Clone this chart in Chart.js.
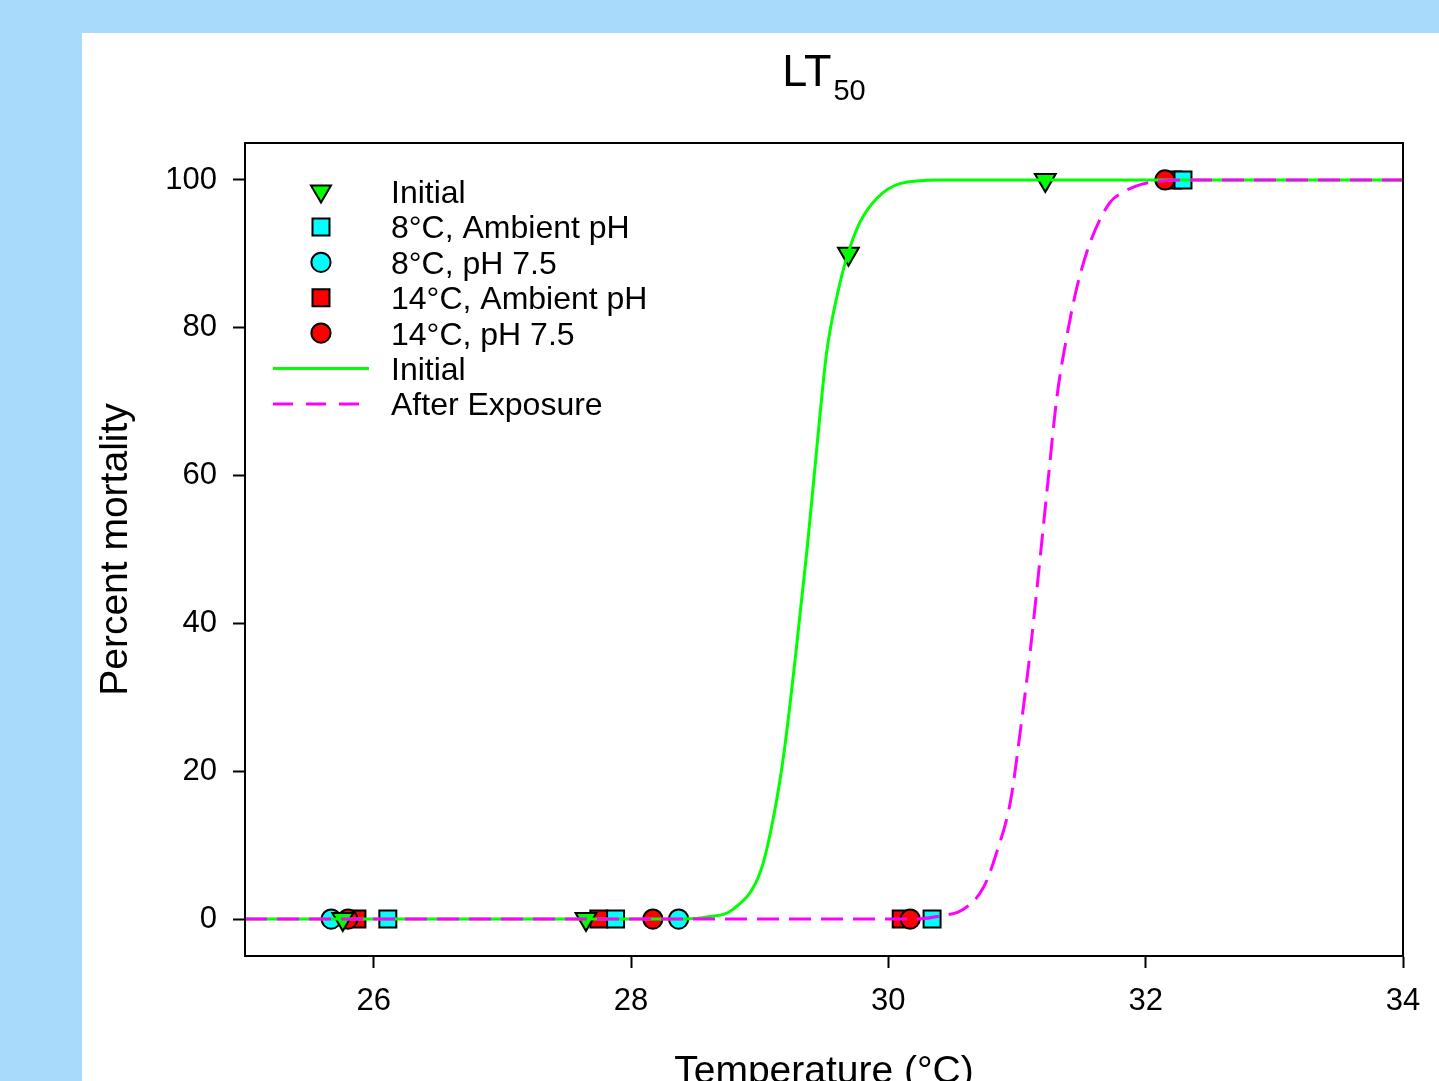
<!DOCTYPE html>
<html>
<head>
<meta charset="utf-8">
<title>LT50</title>
<script src="https://cdn.jsdelivr.net/npm/chart.js@4/dist/chart.umd.min.js"></script>
<style>
  html, body { margin: 0; padding: 0; background: #a8dafc; overflow: hidden; }
  #panel { position: absolute; left: 82px; top: 33px; width: 1357px; height: 1048px; background: #fff; }
  #chart { display: block; }
</style>
</head>
<body>
<div id="panel"><canvas id="chart" width="1357" height="1048"></canvas></div>
<script>
// ── Data ────────────────────────────────────────────────

const X_TICKS = [26, 28, 30, 32, 34];
const Y_TICKS = [0, 20, 40, 60, 80, 100];

// observed mortality per treatment (temperature °C, % dead)
const initialX = [25.76, 27.65, 29.69, 31.22];
const initialY = [0, 0, 90, 100];
const amb8X = [26.11, 27.88, 30.34, 32.29];
const amb8Y = [0, 0, 0, 100];
const ph8X = [25.67, 28.37];
const ph8Y = [0, 0];
const amb14X = [25.87, 27.75, 30.10, 32.21];
const amb14Y = [0, 0, 0, 100];
const ph14X = [25.80, 28.17, 30.17, 32.15];
const ph14Y = [0, 0, 0, 100];

// fitted curves
const fitInitialX = [25, 28.4, 28.6, 28.8, 29.01, 29.11, 29.19, 29.28, 29.37, 29.45, 29.52, 29.61, 29.68, 29.78, 29.91, 30.09, 30.4, 34];
const fitInitialY = [0, 0, 0.3, 1.4, 6.6, 14, 22.6, 35.8, 50.3, 64.8, 76.6, 85, 89.7, 94.3, 97.5, 99.5, 100, 100];
const fitAfterX = [25, 30.2, 30.4, 30.59, 30.74, 30.84, 30.95, 31.03, 31.10, 31.18, 31.25, 31.31, 31.39, 31.47, 31.57, 31.72, 31.82, 31.93, 32.05, 32.3, 34];
const fitAfterY = [0, 0, 0.4, 1.4, 4.3, 8.9, 16, 26, 35.8, 48.9, 60.8, 70.6, 79.1, 85.8, 91.6, 96.9, 98.3, 99.2, 99.7, 100, 100];

const FONT = "'Liberation Sans', Arial, sans-serif";
const GREEN = "#00ff00";
const CYAN = "#00ffff";
const RED = "#ff0000";
const MAGENTA = "#ff00ff";

const pts = (xs, ys) => xs.map((x, i) => ({ x, y: ys[i] }));

function markerSet(label, xs, ys, style, color, radius, order, rotation) {
  return {
    label,
    data: pts(xs, ys),
    showLine: false,
    pointStyle: style,
    pointRadius: radius,
    pointHoverRadius: radius,
    pointRotation: rotation || 0,
    backgroundColor: color,
    borderColor: "#000",
    pointBorderWidth: 2,
    order,
  };
}

function curveSet(label, xs, ys, color, dash, order) {
  return {
    label,
    data: pts(xs, ys),
    showLine: true,
    pointRadius: 0,
    borderColor: color,
    borderWidth: 3,
    borderDash: dash,
    cubicInterpolationMode: "monotone",
    fill: false,
    order,
  };
}

// ── Legend entries (drawn inside the plot) ───────────────

const LEGEND = [
  { text: "Initial", kind: "tri", color: GREEN },
  { text: "8°C, Ambient pH", kind: "sq", color: CYAN },
  { text: "8°C, pH 7.5", kind: "circ", color: CYAN },
  { text: "14°C, Ambient pH", kind: "sq", color: RED },
  { text: "14°C, pH 7.5", kind: "circ", color: RED },
  { text: "Initial", kind: "line", color: GREEN, dash: [] },
  { text: "After Exposure", kind: "line", color: MAGENTA, dash: [20, 13] },
];

function drawMarker(ctx, kind, x, y, color) {
  ctx.save();
  ctx.fillStyle = color;
  ctx.strokeStyle = "#000";
  ctx.lineWidth = 2;
  ctx.beginPath();
  if (kind === "tri") {
    ctx.moveTo(x - 10, y - 6);
    ctx.lineTo(x + 10, y - 6);
    ctx.lineTo(x, y + 11);
    ctx.closePath();
  } else if (kind === "sq") {
    ctx.rect(x - 8.5, y - 8.5, 17, 17);
  } else {
    ctx.arc(x, y, 9.6, 0, Math.PI * 2);
  }
  ctx.fill();
  ctx.stroke();
  ctx.restore();
}

const decorPlugin = {
  id: "decor",
  afterDraw(chart) {
    const { ctx, chartArea: a } = chart;
    ctx.save();

    // frame top and right
    ctx.strokeStyle = "#000";
    ctx.lineWidth = 2;
    ctx.strokeRect(a.left, a.top, a.right - a.left, a.bottom - a.top);

    // title LT50
    ctx.fillStyle = "#000";
    ctx.textBaseline = "alphabetic";
    ctx.font = "45px " + FONT;
    const wLT = ctx.measureText("LT").width;
    ctx.font = "29px " + FONT;
    const w50 = ctx.measureText("50").width;
    const cx = (a.left + a.right) / 2;
    const start = cx - (wLT + w50 + 2) / 2;
    ctx.textAlign = "left";
    ctx.font = "45px " + FONT;
    ctx.fillText("LT", start, 53);
    ctx.font = "29px " + FONT;
    ctx.fillText("50", start + wLT + 2, 67);

    // axis titles
    ctx.font = "39px " + FONT;
    ctx.textAlign = "center";
    ctx.fillText("Temperature (°C)", cx, 1050);
    ctx.save();
    ctx.translate(45, (a.top + a.bottom) / 2);
    ctx.rotate(-Math.PI / 2);
    ctx.fillText("Percent mortality", 0, 0);
    ctx.restore();

    // legend
    ctx.font = "32px " + FONT;
    ctx.textAlign = "left";
    LEGEND.forEach((item, i) => {
      const y = 158.5 + i * 35.4;
      if (item.kind === "line") {
        ctx.save();
        ctx.strokeStyle = item.color;
        ctx.lineWidth = 3;
        ctx.setLineDash(item.dash);
        ctx.beginPath();
        ctx.moveTo(191, y);
        ctx.lineTo(287, y);
        ctx.stroke();
        ctx.restore();
      } else {
        drawMarker(ctx, item.kind, 239, y, item.color);
      }
      ctx.fillStyle = "#000";
      ctx.fillText(item.text, 309, y + 11.5);
    });

    ctx.restore();
  },
};

// ── Chart ───────────────────────────────────────────────

const tickFont = { family: FONT, size: 31 };

new Chart(document.getElementById("chart"), {
  type: "scatter",
  data: {
    datasets: [
      curveSet("After Exposure", fitAfterX, fitAfterY, MAGENTA, [22, 10], 0),
      curveSet("Initial fit", fitInitialX, fitInitialY, GREEN, [], 1),
      markerSet("Initial", initialX, initialY, "triangle", GREEN, 12, 2, 180),
      markerSet("8°C, Ambient pH", amb8X, amb8Y, "rect", CYAN, 12, 3),
      markerSet("14°C, pH 7.5", ph14X, ph14Y, "circle", RED, 9.6, 4),
      markerSet("14°C, Ambient pH", amb14X, amb14Y, "rect", RED, 12, 5),
      markerSet("8°C, pH 7.5", ph8X, ph8Y, "circle", CYAN, 9.6, 6),
    ],
  },
  options: {
    responsive: false,
    animation: false,
    devicePixelRatio: 1,
    layout: { padding: { left: 0, top: 110, right: 36, bottom: 0 } },
    plugins: {
      legend: { display: false },
      title: { display: false },
      tooltip: { enabled: false },
    },
    scales: {
      x: {
        type: "linear",
        min: 25,
        max: 34,
        afterBuildTicks: (s) => { s.ticks = X_TICKS.map((v) => ({ value: v })); },
        afterFit: (s) => { s.height = 125; },
        grid: { display: true, drawOnChartArea: false, drawTicks: true, tickLength: 12, tickWidth: 2, tickColor: "#000" },
        border: { display: true, color: "#000", width: 2 },
        ticks: { color: "#000", font: tickFont, padding: 15, maxRotation: 0 },
      },
      y: {
        type: "linear",
        min: -5,
        max: 105,
        afterBuildTicks: (s) => { s.ticks = Y_TICKS.map((v) => ({ value: v })); },
        afterFit: (s) => { s.width = 163; },
        grid: { display: true, drawOnChartArea: false, drawTicks: true, tickLength: 12, tickWidth: 2, tickColor: "#000" },
        border: { display: true, color: "#000", width: 2 },
        ticks: { color: "#000", font: tickFont, padding: 16 },
      },
    },
  },
  plugins: [decorPlugin],
});
</script>
</body>
</html>
